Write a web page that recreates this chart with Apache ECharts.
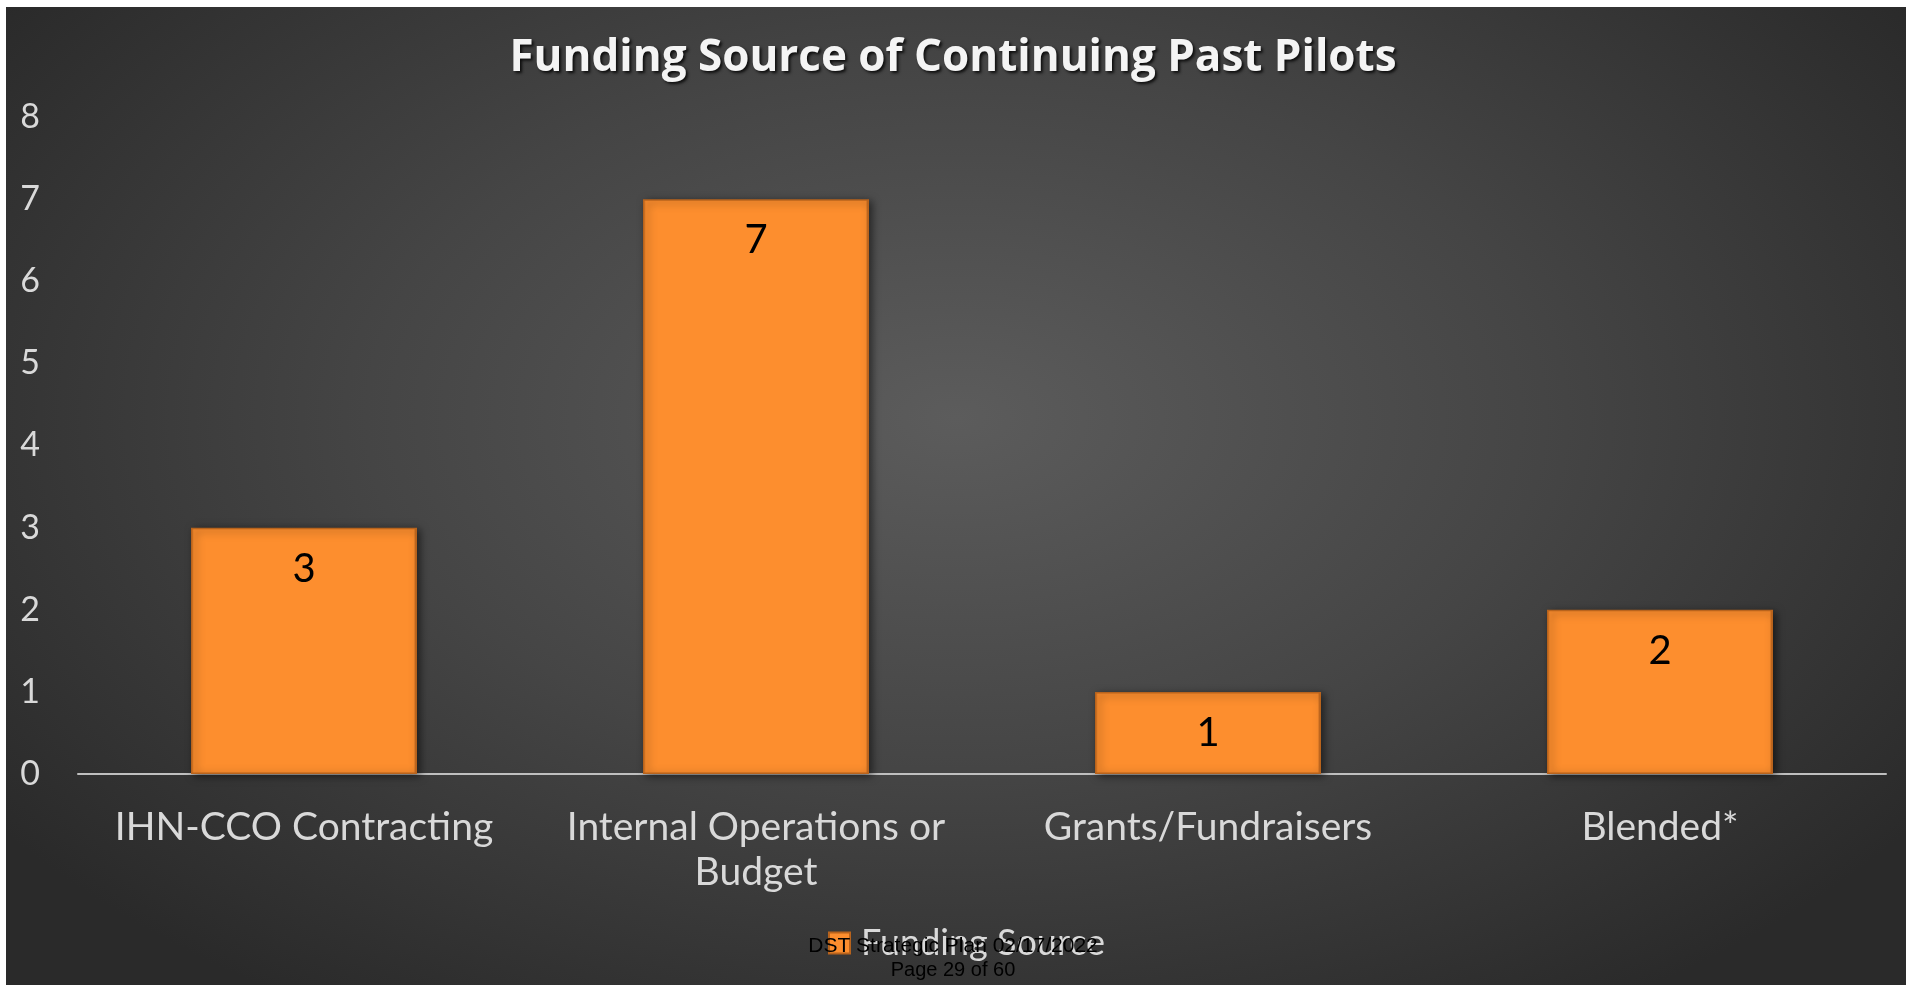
<!DOCTYPE html>
<html>
<head>
<meta charset="utf-8">
<script src="https://cdn.jsdelivr.net/npm/echarts@6/dist/echarts.min.js"></script>
<style>
html,body{margin:0;padding:0;background:#ffffff;width:1906px;height:985px;overflow:hidden;}
#bg{position:absolute;left:6px;top:7px;right:0;bottom:0;
background:radial-gradient(ellipse 62% 72% at 50% 42%, #5c5c5c 0%, #454545 50%, #2a2a2a 100%);}
#chart{position:absolute;left:0;top:0;width:1906px;height:985px;}
</style>
</head>
<body>
<div id="bg"></div>
<div id="chart"></div>
<script>
const titleText = 'Funding Source of Continuing Past Pilots';
const seriesName = 'Funding Source';
const categories = ['IHN-CCO Contracting', 'Internal Operations or\nBudget', 'Grants/Fundraisers', 'Blended*'];
const values = [3, 7, 1, 2];
const yTicks = [0, 1, 2, 3, 4, 5, 6, 7, 8];
const footerLines = ['DST Strategic Plan 02/17/2022', 'Page 29 of 60'];

const chart = echarts.init(document.getElementById('chart'), null, {renderer: 'canvas'});
const FONT = 'Lato, "Open Sans", sans-serif';
const option = {
  backgroundColor: 'transparent',
  title: {
    text: titleText,
    left: 'center',
    top: 31,
    textStyle: {
      fontFamily: '"Open Sans", Lato, sans-serif', fontWeight: 'bold', fontSize: 44, color: '#f4f4f4',
      textShadowColor: 'rgba(0,0,0,0.8)', textShadowBlur: 3, textShadowOffsetX: 2, textShadowOffsetY: 2
    }
  },
  legend: {
    data: [seriesName],
    left: 828,
    top: 922,
    padding: 0,
    icon: 'rect',
    itemWidth: 21,
    itemHeight: 21,
    textStyle: {fontFamily: FONT, fontSize: 36, color: '#d9d9d9', lineHeight: 42, padding: [0, 0, 0, 6]}
  },
  grid: {left: 78, right: 20, top: 117, bottom: 211, containLabel: false},
  xAxis: {
    type: 'category',
    data: categories,
    axisLine: {show: true, lineStyle: {color: '#bfbfbf', width: 2}},
    axisTick: {show: false},
    axisLabel: {fontFamily: FONT, fontSize: 39, color: '#d9d9d9', margin: 31, lineHeight: 45, interval: 0}
  },
  yAxis: {
    type: 'value',
    min: yTicks[0],
    max: yTicks[yTicks.length - 1],
    interval: 1,
    axisLine: {show: false},
    axisTick: {show: false},
    splitLine: {show: false},
    axisLabel: {fontFamily: FONT, fontSize: 34, color: '#d9d9d9', margin: 38}
  },
  series: [{
    name: seriesName,
    type: 'bar',
    data: values,
    barCategoryGap: '50%',
    itemStyle: {
      color: {
        type: 'linear', x: 0, y: 0, x2: 1, y2: 0,
        colorStops: [
          {offset: 0, color: '#e07a22'},
          {offset: 0.015, color: '#fd8e2e'},
          {offset: 0.985, color: '#fd8e2e'},
          {offset: 1, color: '#a9591a'}
        ]
      },
      borderColor: '#b8631c',
      borderWidth: 1.5,
      shadowColor: 'rgba(0,0,0,0.55)',
      shadowBlur: 8,
      shadowOffsetX: 3,
      shadowOffsetY: 2
    },
    label: {
      show: true,
      position: 'insideTop',
      distance: 21,
      fontFamily: FONT,
      fontSize: 40,
      color: '#000000'
    }
  }],
  graphic: [
    {type: 'text', left: 'center', top: 936, z: 100,
      style: {text: footerLines[0], font: '21px "Liberation Sans", Arial, sans-serif', fill: '#000000'}},
    {type: 'text', left: 'center', top: 960, z: 100,
      style: {text: footerLines[1], font: '20px "Liberation Sans", Arial, sans-serif', fill: '#000000'}}
  ]
};
chart.setOption(option);
</script>
</body>
</html>
